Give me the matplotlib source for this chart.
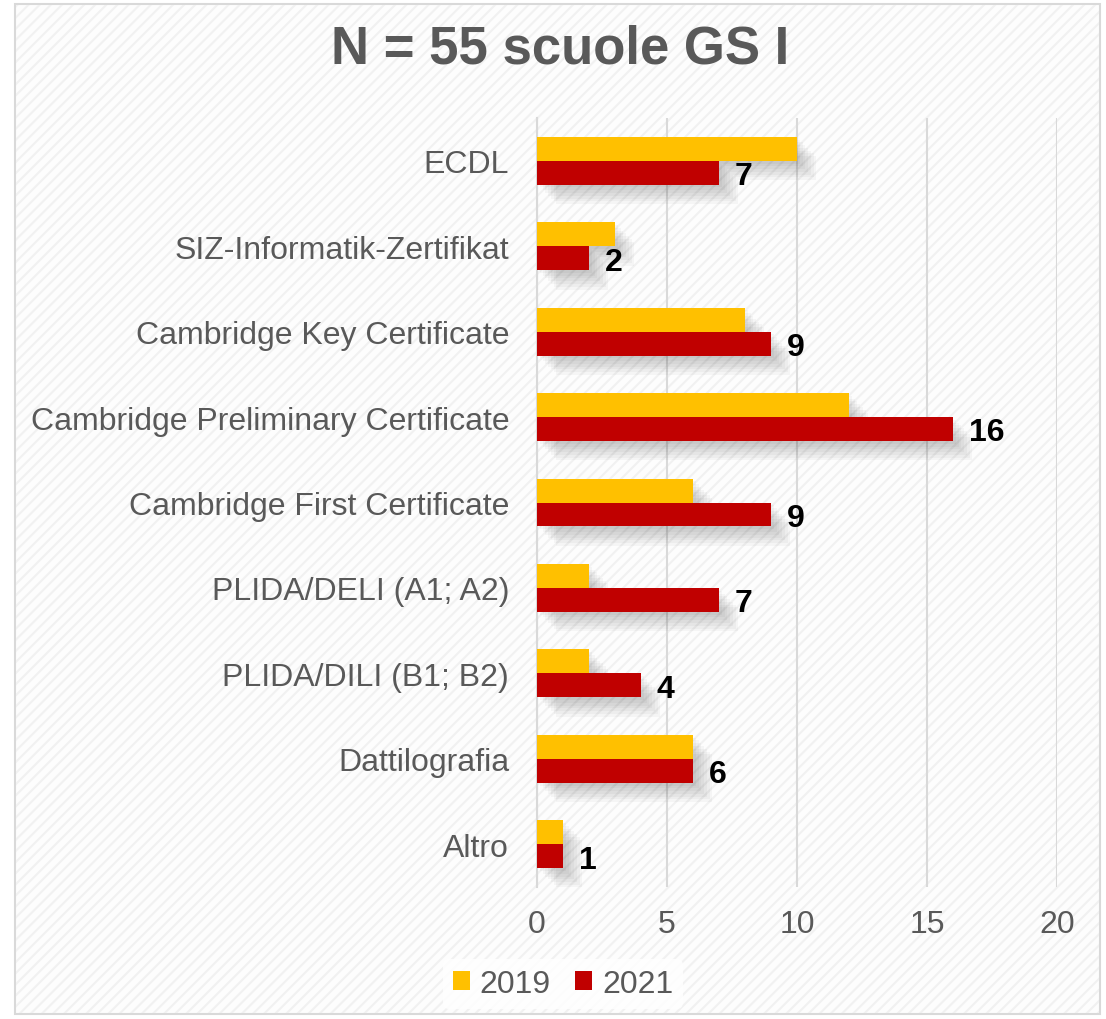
import numpy as np
import matplotlib
matplotlib.use('Agg')
import matplotlib.pyplot as plt
import matplotlib.patheffects as pe
from matplotlib.patches import Rectangle

categories = ['ECDL', 'SIZ-Informatik-Zertifikat', 'Cambridge Key Certificate',
              'Cambridge Preliminary Certificate', 'Cambridge First Certificate',
              'PLIDA/DELI (A1; A2)', 'PLIDA/DILI (B1; B2)', 'Dattilografia', 'Altro']
values_2019 = [10, 3, 8, 12, 6, 2, 2, 6, 1]
values_2021 = [7, 2, 9, 16, 9, 7, 4, 6, 1]
series_names = ['2019', '2021']
x_ticks = [0, 5, 10, 15, 20]

plt.rcParams['font.family'] = ['Liberation Sans', 'DejaVu Sans']
plt.rcParams['hatch.linewidth'] = 1.5

grey = '#595959'
yellow = '#ffc000'
red = '#c00000'

fig = plt.figure(figsize=(11.06, 10.2), dpi=100)
fig.patch.set_facecolor('white')

# hatched chart area with thin border
bg = Rectangle((15 / 1106, 1 - 1015 / 1020), 1085 / 1106, 1010 / 1020,
               transform=fig.transFigure, facecolor='#fdfdfd', edgecolor='#d9d9d9',
               linewidth=1.5, zorder=-3)
fig.patches.append(bg)
hatch = Rectangle((16 / 1106, 1 - 1014 / 1020), 1083 / 1106, 1008 / 1020,
                  transform=fig.transFigure, facecolor='none', edgecolor='#f1f1f1',
                  hatch='///', linewidth=0, zorder=-2)
fig.patches.append(hatch)

ax = fig.add_axes([537 / 1106, 1 - 888 / 1020, 520 / 1106, 769 / 1020])
ax.set_facecolor('none')

y = np.arange(len(categories))
h = 0.28
shadow = [pe.SimplePatchShadow(offset=(d, -d), shadow_rgbFace='black', alpha=0.03)
          for d in (2, 4, 6, 8, 10, 12, 14)] + [pe.Normal()]

b1 = ax.barh(y - h / 2, values_2019, height=h, color=yellow, label=series_names[0], zorder=3)
b2 = ax.barh(y + h / 2, values_2021, height=h, color=red, label=series_names[1], zorder=3)
for bar in list(b1) + list(b2):
    bar.set_path_effects(shadow)

for bar, v in zip(b2, values_2021):
    ax.text(v + 0.6, bar.get_y() + bar.get_height() / 2 + 0.04, str(v), va='center',
            ha='left', fontsize=23, fontweight='bold', color='black', zorder=4)

ax.set_xlim(0, 20)
ax.set_ylim(len(categories) - 0.5, -0.5)
ax.set_xticks(x_ticks)
ax.set_xticklabels([str(t) for t in x_ticks])
ax.set_yticks(y)
ax.set_yticklabels(categories)
ax.tick_params(axis='x', length=0, labelsize=23, labelcolor=grey, pad=16)
ax.tick_params(axis='y', length=0, labelsize=23, labelcolor=grey, pad=20)
ax.grid(axis='x', color='#d9d9d9', linewidth=1.5, zorder=1)
ax.set_axisbelow(True)
for s in ['top', 'right', 'bottom']:
    ax.spines[s].set_visible(False)
ax.spines['left'].set_color('#d9d9d9')
ax.spines['left'].set_linewidth(1.5)

fig.text(560 / 1106, 1 - 49 / 1020, 'N = 55 scuole GS I', ha='center', va='center',
         fontsize=38, fontweight='bold', color=grey)

leg = fig.legend(handles=[b1, b2], labels=series_names, loc='center',
                 bbox_to_anchor=(563 / 1106, 1 - 985 / 1020), ncol=2, frameon=True,
                 fontsize=23, handlelength=0.55, handleheight=0.55, handletextpad=0.3,
                 columnspacing=0.75, labelcolor=grey, borderpad=0.3)
leg.get_frame().set_facecolor('white')
leg.get_frame().set_edgecolor('none')
leg.get_frame().set_alpha(0.8)
for hnd in leg.legend_handles:
    hnd.set_path_effects([])

fig.savefig('out.png', dpi=100)
